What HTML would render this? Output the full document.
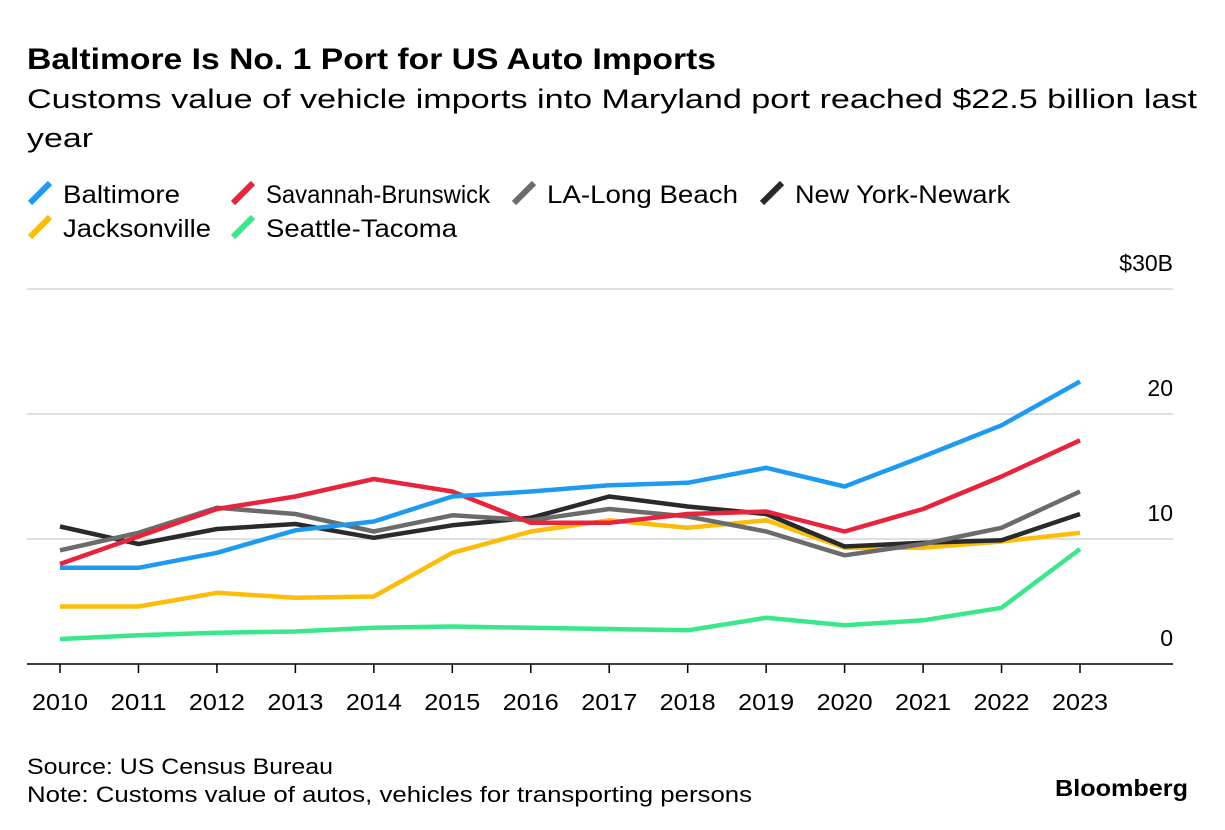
<!DOCTYPE html>
<html><head><meta charset="utf-8"><style>
body{margin:0;width:1225px;height:830px;background:#fff;font-family:"Liberation Sans",sans-serif;overflow:hidden}
</style></head><body>
<svg id="c" width="1225" height="830" style="position:absolute;left:0;top:0">
<text x="27" y="69" font-size="30" font-weight="bold" fill="#000" textLength="689" lengthAdjust="spacingAndGlyphs">Baltimore Is No. 1 Port for US Auto Imports</text>
<text x="27" y="108" font-size="27" fill="#000" textLength="1170" lengthAdjust="spacingAndGlyphs">Customs value of vehicle imports into Maryland port reached $22.5 billion last</text>
<text x="27" y="147" font-size="27" fill="#000" textLength="66" lengthAdjust="spacingAndGlyphs">year</text>
<text x="27" y="774" font-size="22" fill="#000" textLength="306" lengthAdjust="spacingAndGlyphs">Source: US Census Bureau</text>
<text x="27" y="802" font-size="22" fill="#000" textLength="725" lengthAdjust="spacingAndGlyphs">Note: Customs value of autos, vehicles for transporting persons</text>
<text x="1055" y="796" font-size="23" font-weight="bold" fill="#000" textLength="133" lengthAdjust="spacingAndGlyphs">Bloomberg</text>
<g id="legend"></g><g id="grid"></g><g id="lines"></g>
</svg>
<script>
const years=[2010,2011,2012,2013,2014,2015,2016,2017,2018,2019,2020,2021,2022,2023];
const seriesNames=["Baltimore","Savannah-Brunswick","LA-Long Beach","New York-Newark","Jacksonville","Seattle-Tacoma"];
const baltimore=[7.7,7.7,8.9,10.7,11.4,13.4,13.8,14.3,14.5,15.7,14.2,16.6,19.1,22.6];
const savannah=[8.0,10.2,12.4,13.4,14.8,13.8,11.3,11.3,12.0,12.2,10.6,12.4,15.0,17.9];
const laLongBeach=[9.1,10.5,12.5,12.0,10.6,11.9,11.5,12.4,11.8,10.6,8.7,9.6,10.9,13.8];
const newYork=[11.0,9.6,10.8,11.2,10.1,11.1,11.7,13.4,12.6,12.0,9.4,9.7,9.9,12.0];
const jacksonville=[4.6,4.6,5.7,5.3,5.4,8.9,10.6,11.5,10.9,11.5,9.3,9.3,9.8,10.5];
const seattle=[2.0,2.3,2.5,2.6,2.9,3.0,2.9,2.8,2.7,3.7,3.1,3.5,4.5,9.2];
const yTicks=[0,10,20,30];
const yTickLabels=["0","10","20","$30B"];
const colors=["#1e9bf0","#e8243c","#6b6b6b","#2a2a2a","#fcbd0a","#3ae88b"];
const allSeries=[baltimore,savannah,laLongBeach,newYork,jacksonville,seattle];
const NS="http://www.w3.org/2000/svg";
const x=i=>60+i*(1020/13);
const y=v=>664-v*12.5;
function mk(tag,attrs,parent){const e=document.createElementNS(NS,tag);for(const k in attrs)e.setAttribute(k,attrs[k]);parent.appendChild(e);return e;}
const grid=document.getElementById('grid');
yTicks.forEach((t,i)=>{
  if(t>0){const l=mk('line',{x1:27,x2:1173,y1:y(t),y2:y(t),stroke:'#d6d6d6','stroke-width':1.5},grid);
  
  }
  const tx=mk('text',{x:1173,y:y(t)-18,'font-size':23,'text-anchor':'end',fill:'#000'},grid);
  tx.textContent=yTickLabels[i];
  
  
});
const base=mk('line',{x1:27,x2:1173,y1:y(0),y2:y(0),stroke:'#000','stroke-width':1.5},grid);


years.forEach((yr,i)=>{
  const tk=mk('line',{x1:x(i),x2:x(i),y1:y(0),y2:y(0)+9,stroke:'#000','stroke-width':1.5},grid);
  
  
  const tx=mk('text',{x:x(i)-28,y:710,'font-size':23,fill:'#000',textLength:56,lengthAdjust:'spacingAndGlyphs'},grid);
  tx.textContent=yr;
  
  
});
const lines=document.getElementById('lines');
for(let s=allSeries.length-1;s>=0;s--){
  const d=allSeries[s].map((v,i)=>(i?'L':'M')+x(i).toFixed(1)+' '+y(v).toFixed(1)).join(' ');
  const p=mk('path',{d:d,fill:'none',stroke:colors[s],'stroke-width':4.5,'stroke-linejoin':'round'},lines);
  
  
}
const leg=document.getElementById('legend');
const legPos=[[30,203],[233,203],[514,203],[762,203],[30,237],[233,237]];
const legW=[117,224,191,215,148,191];
seriesNames.forEach((n,i)=>{
  const [lx,ly]=legPos[i];
  const g=mk('g',{},leg);
  
  
  mk('line',{x1:lx,y1:ly,x2:lx+20,y2:ly-20,stroke:colors[i],'stroke-width':6},g);
  const t=mk('text',{x:lx+33,y:ly,'font-size':25,fill:'#000',textLength:legW[i],lengthAdjust:'spacingAndGlyphs'},g);
  t.textContent=n;
});
</script>
</body></html>
